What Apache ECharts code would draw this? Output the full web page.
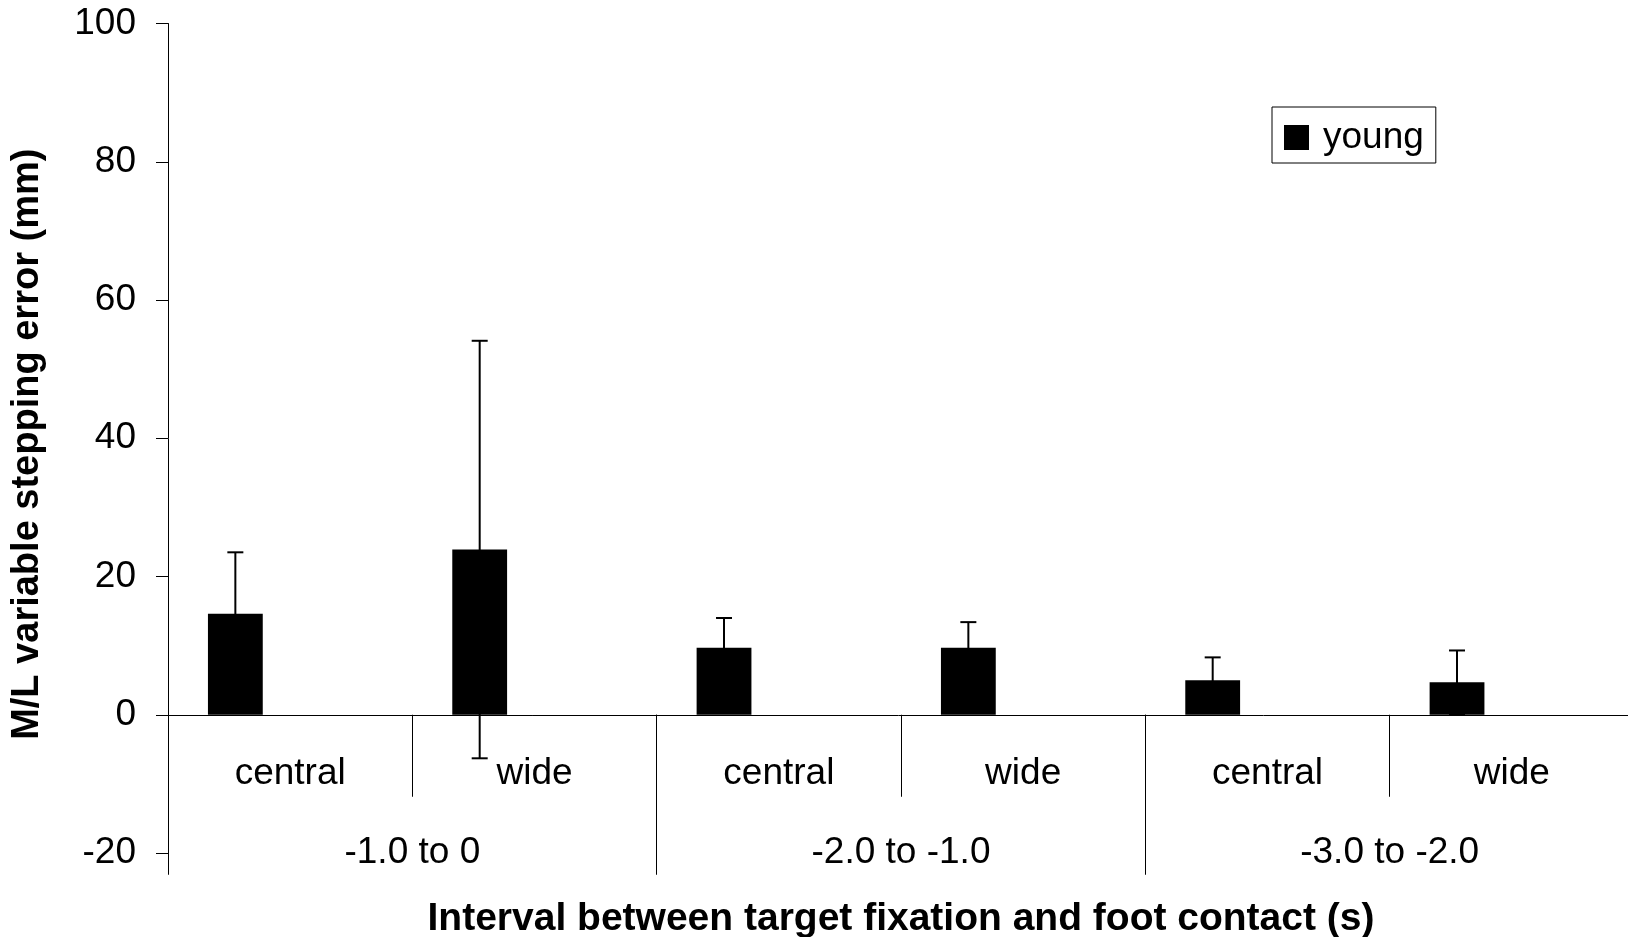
<!DOCTYPE html>
<html>
<head>
<meta charset="utf-8">
<title>M/L variable stepping error</title>
<script src="https://cdn.jsdelivr.net/npm/echarts@6/dist/echarts.min.js"></script>
<style>
  html, body { margin: 0; padding: 0; background: #fff; }
  #chart { width: 1628px; height: 937px; }
</style>
</head>
<body>
<div id="chart"></div>
<script>
// Target condition within each fixation interval
const conditions = ['central', 'wide', 'central', 'wide', 'central', 'wide'];
// Interval between target fixation and foot contact (s)
const intervals = ['-1.0 to 0', '-2.0 to -1.0', '-3.0 to -2.0'];
// Young group: mean M/L variable stepping error (mm) and its SD
const youngMean = [14.6, 23.9, 9.7, 9.7, 5.0, 4.7];
const youngSD = [8.9, 30.2, 4.3, 3.7, 3.3, 4.6];
// Value axis range
const yMin = -20;
const yMax = 100;
const yStep = 20;

const FONT = '"Liberation Sans", Arial, sans-serif';
// Each category holds three bar slots; only the first one (young) carries data.
const SLOTS = 3;
const GAP = 0.327;

const chart = echarts.init(document.getElementById('chart'), null, { renderer: 'canvas' });

const option = {
  animation: false,
  backgroundColor: '#fff',
  textStyle: { fontFamily: FONT, color: '#000' },
  grid: {
    left: 168, right: -6, top: 23.5, bottom: 84,
    containLabel: false,
    outerBoundsMode: 'none'
  },
  legend: {
    data: ['young'],
    left: 1272, top: 107,
    orient: 'horizontal',
    icon: 'rect',
    itemWidth: 25, itemHeight: 25,
    padding: [12, 12, 7, 12],
    borderColor: '#000', borderWidth: 1,
    textStyle: { fontFamily: FONT, fontSize: 37, lineHeight: 37, color: '#000', padding: [0, 0, 0, 9] }
  },
  xAxis: [
    {
      // condition axis, lifted to the zero line below
      type: 'category',
      data: conditions,
      position: 'bottom',
      offset: 0,
      boundaryGap: true,
      axisLine: { show: true, onZero: false, lineStyle: { color: '#000', width: 1 } },
      axisTick: { show: true, length: 82, interval: 0, lineStyle: { color: '#000', width: 1 } },
      axisLabel: { interval: 0, margin: 41, fontFamily: FONT, fontSize: 37, lineHeight: 37, color: '#000' },
      splitLine: { show: false },
      name: 'Interval between target fixation and foot contact (s)',
      nameLocation: 'middle',
      nameGap: 185,
      nameTextStyle: { fontFamily: FONT, fontSize: 39, fontWeight: 'bold', color: '#000', lineHeight: 39 }
    },
    {
      // interval axis with long group separators
      type: 'category',
      data: intervals,
      position: 'bottom',
      offset: 0,
      boundaryGap: true,
      axisLine: { show: false, onZero: false },
      axisTick: { show: true, length: 160, interval: 0, lineStyle: { color: '#000', width: 1 } },
      axisLabel: { interval: 0, margin: 120, fontFamily: FONT, fontSize: 37, lineHeight: 37, color: '#000' },
      splitLine: { show: false }
    }
  ],
  yAxis: {
    type: 'value',
    min: yMin, max: yMax, interval: yStep,
    axisLine: { show: true, lineStyle: { color: '#000', width: 1 } },
    axisTick: { show: true, length: 12, inside: false, lineStyle: { color: '#000', width: 1 } },
    axisLabel: { margin: 32, fontFamily: FONT, fontSize: 37, color: '#000' },
    splitLine: { show: false },
    name: 'M/L variable stepping error (mm)',
    nameLocation: 'middle',
    nameGap: 121,
    nameTextStyle: { fontFamily: FONT, fontSize: 38, lineHeight: 38, fontWeight: 'bold', color: '#000', padding: [0, 12, 0, 0] }
  },
  series: [
    {
      name: 'young',
      type: 'bar',
      xAxisIndex: 0, yAxisIndex: 0,
      data: youngMean,
      barGap: '0%',
      barCategoryGap: (GAP * 100) + '%',
      itemStyle: { color: '#000', borderColor: '#000', borderWidth: 0 }
    },
    {
      name: 'slot2', type: 'bar', xAxisIndex: 0, yAxisIndex: 0,
      data: conditions.map(() => null),
      barGap: '0%', barCategoryGap: (GAP * 100) + '%'
    },
    {
      name: 'slot3', type: 'bar', xAxisIndex: 0, yAxisIndex: 0,
      data: conditions.map(() => null),
      barGap: '0%', barCategoryGap: (GAP * 100) + '%'
    },
    {
      // ±SD error bars centred on the young bar slot
      name: 'young SD',
      type: 'custom',
      xAxisIndex: 0, yAxisIndex: 0,
      data: youngMean.map((m, i) => [i, m, youngSD[i]]),
      encode: { x: 0, y: 1 },
      z: 5,
      renderItem: function (params, api) {
        const i = api.value(0);
        const m = api.value(1);
        const s = api.value(2);
        const catW = api.size([1, 0])[0];
        const slotW = catW * (1 - GAP) / SLOTS;
        const cx = api.coord([i, 0])[0] - catW / 2 + catW * GAP / 2 + slotW / 2;
        const yTop = api.coord([i, m + s])[1];
        const yBot = api.coord([i, m - s])[1];
        const half = 8;
        const st = { stroke: '#000', lineWidth: 2 };
        return {
          type: 'group',
          children: [
            { type: 'line', shape: { x1: cx, y1: yTop, x2: cx, y2: yBot }, style: st },
            { type: 'line', shape: { x1: cx - half, y1: yTop, x2: cx + half, y2: yTop }, style: st },
            { type: 'line', shape: { x1: cx - half, y1: yBot, x2: cx + half, y2: yBot }, style: st }
          ]
        };
      }
    }
  ]
};

chart.setOption(option);

// Lift both category axes up to the zero line of the value axis.
const zeroY = chart.convertToPixel({ yAxisIndex: 0 }, 0);
const bottomY = chart.convertToPixel({ yAxisIndex: 0 }, yMin);
const lift = zeroY - bottomY;
chart.setOption({ xAxis: [{ offset: lift }, { offset: lift }] });
</script>
</body>
</html>
